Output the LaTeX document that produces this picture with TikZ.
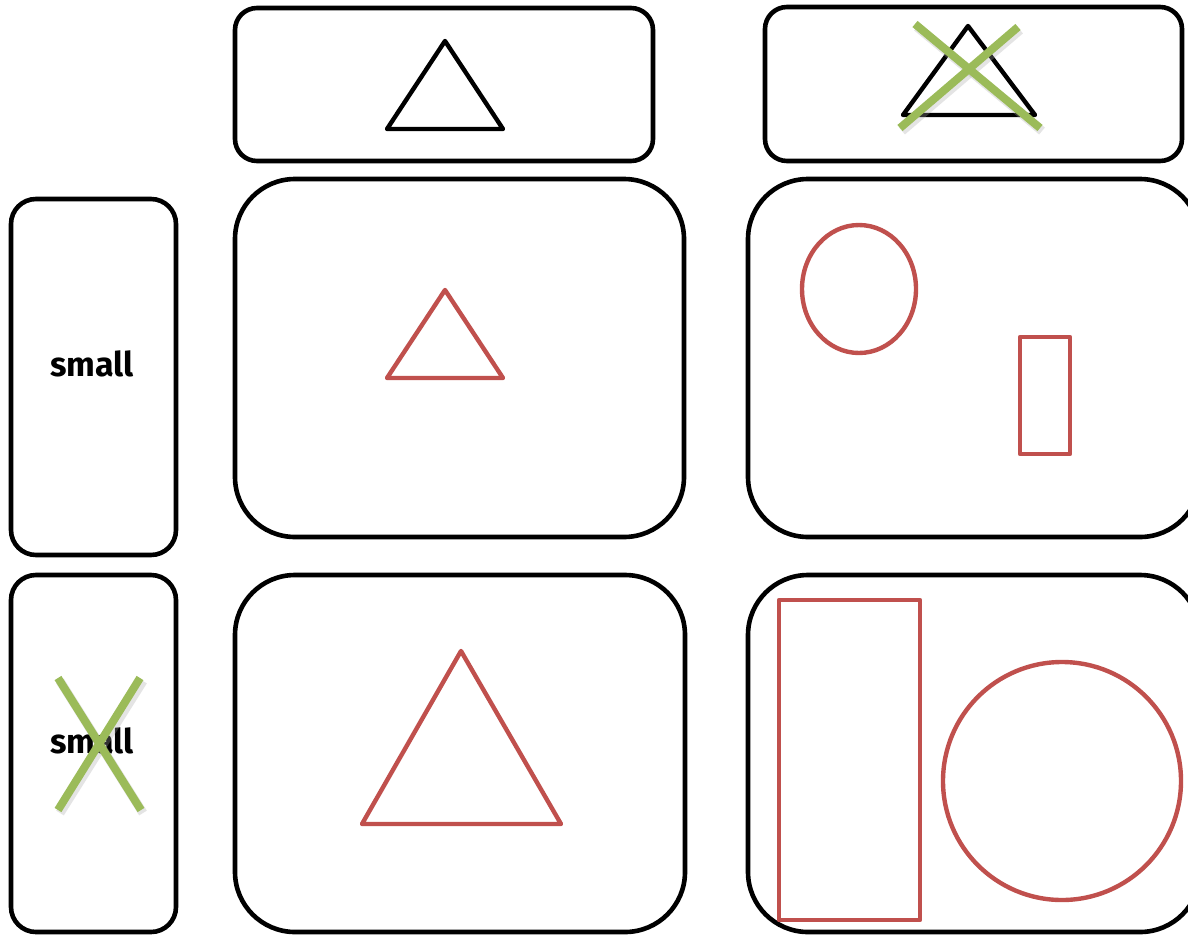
\documentclass[tikz,border=0pt]{standalone}
\usepackage{fontspec}
\newfontfamily\labelfont{Fira Sans}
\definecolor{shapered}{HTML}{C0504D}
\definecolor{crossgreen}{HTML}{9BBB59}
\tikzset{
  panel/.style={draw=black, line width=4.6pt},
  blackshape/.style={draw=black, line width=4.4pt, line join=round, line cap=round},
  redshape/.style={draw=shapered, line width=4.4pt, line join=round, line cap=round},
  crossline/.style={draw=crossgreen, line width=8pt},
  crossshadow/.style={draw=black!35, line width=9pt, opacity=0.3},
  lbl/.style={font=\labelfont\bfseries\fontsize{34}{40}\selectfont, inner sep=0pt}
}
\begin{document}
\begin{tikzpicture}[x=1pt, y=-1pt]
\useasboundingbox (0,0) rectangle (1188,935);
\clip (0,0) rectangle (1188,935);
\fill[white] (0,0) rectangle (1188,935);
% panels
\draw[panel, rounded corners=22pt] (235,8) rectangle (653,161);
\draw[panel, rounded corners=22pt] (765,7) rectangle (1182,161);
\draw[panel, rounded corners=25pt] (11,199) rectangle (176,555);
\draw[panel, rounded corners=60pt] (235,179) rectangle (684,537);
\draw[panel, rounded corners=60pt] (748,179) rectangle (1200,537);
\draw[panel, rounded corners=25pt] (11,575) rectangle (176,932);
\draw[panel, rounded corners=60pt] (235,575) rectangle (685,932);
\draw[panel, rounded corners=60pt] (748,575) rectangle (1200,932);
% top row triangles
\draw[blackshape] (445,41) -- (503,129) -- (387,129) -- cycle;
\draw[blackshape] (968,26) -- (1035,115) -- (903,115) -- cycle;
\draw[crossshadow] (917,27) -- (1042,131);
\draw[crossshadow] (1020,30) -- (902,131);
\draw[crossline] (915,24) -- (1040,128);
\draw[crossline] (1018,27) -- (900,128);
% middle row
\node[lbl] (s1) at (92,364) {small};
\draw[redshape] (445,290) -- (503,378) -- (387,378) -- cycle;
\draw[redshape] (859,289) ellipse [x radius=57, y radius=64];
\draw[redshape] (1020,337) rectangle (1070,454);
% bottom row
\node[lbl] (s2) at (92,741) {small};
\draw[crossshadow] (60,681) -- (143,813);
\draw[crossshadow] (143,681) -- (60,813);
\draw[crossline] (58,678) -- (141,810);
\draw[crossline] (140,678) -- (58,810);
\draw[redshape] (461,651) -- (561,824) -- (362,824) -- cycle;
\draw[redshape] (779,600) rectangle (920,920);
\draw[redshape] (1062,781) circle [radius=119];
\end{tikzpicture}
\end{document}
